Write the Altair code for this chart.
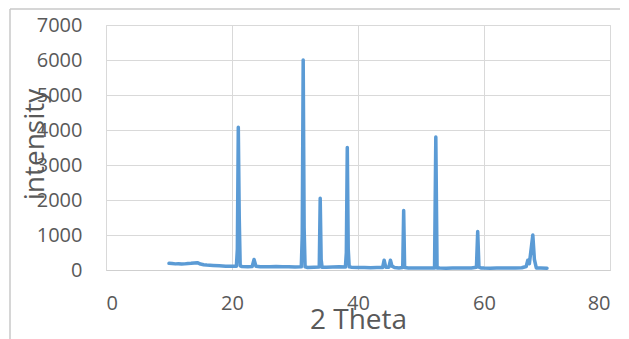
import altair as alt
import pandas as pd

two_theta = [
    10.0, 10.5, 11.0, 11.5, 12.0, 12.5, 13.0, 13.5, 14.0, 14.5, 15.0, 15.5,
    16.0, 17.0, 18.0, 19.0, 20.0, 20.7, 20.85, 21.0, 21.15, 21.3, 21.6, 22.5,
    23.2, 23.5, 23.8, 24.5, 26.0, 27.0, 28.0, 29.0, 30.0, 31.0, 31.15, 31.3,
    31.45, 31.6, 32.0, 33.0, 33.85, 34.0, 34.15, 34.3, 35.0, 36.0, 37.0, 38.0,
    38.15, 38.3, 38.45, 38.6, 39.0, 40.0, 41.0, 42.0, 43.0, 43.9, 44.15, 44.4,
    44.9, 45.15, 45.4, 45.8, 46.5, 47.1, 47.25, 47.4, 48.0, 49.0, 50.0, 51.0,
    52.15, 52.35, 52.55, 53.0, 54.0, 55.0, 56.0, 57.0, 58.0, 58.8, 59.0, 59.2,
    59.5, 60.0, 61.0, 62.0, 63.0, 64.0, 65.0, 66.0, 66.7, 66.95, 67.2, 67.75,
    68.0, 68.3, 69.0, 70.0,
]
intensity = [
    190, 185, 175, 180, 170, 175, 185, 190, 200, 210, 170, 150,
    140, 130, 120, 110, 105, 110, 600, 4080, 1500, 120, 100, 90,
    100, 300, 110, 90, 90, 100, 90, 95, 85, 90, 1000, 6000,
    1200, 90, 70, 80, 85, 2050, 300, 80, 80, 85, 90, 85,
    500, 3500, 600, 90, 80, 70, 70, 65, 70, 70, 280, 80,
    80, 280, 110, 70, 60, 70, 1700, 70, 60, 55, 55, 60,
    60, 3800, 60, 55, 50, 55, 55, 60, 60, 80, 1100, 80,
    60, 55, 50, 60, 55, 60, 60, 65, 100, 280, 180, 1000,
    300, 60, 55, 50,
]

x_ticks = [0, 20, 40, 60, 80]
y_ticks = [0, 1000, 2000, 3000, 4000, 5000, 6000, 7000]

df = pd.DataFrame({"two_theta": two_theta, "intensity": intensity})

FONT = "Open Sans"
GRID = "#d9d9d9"
TXT = "#595959"

line = alt.Chart(df).mark_line(
    color="#5B9BD5", strokeWidth=3.5, strokeJoin="round", strokeCap="round"
).encode(
    x=alt.X(
        "two_theta:Q",
        scale=alt.Scale(domain=[0, 80], nice=False),
        axis=alt.Axis(
            values=x_ticks, format="d", title="2 Theta", grid=True, gridColor=GRID,
            ticks=False, domain=True, domainColor="#cfcfcf",
            labelFont=FONT, labelFontSize=20, labelColor=TXT, labelPadding=23,
            titleFont=FONT, titleFontSize=28, titleColor=TXT,
            titleFontWeight="normal", titleY=58, titleBaseline="alphabetic",
        ),
    ),
    y=alt.Y(
        "intensity:Q",
        scale=alt.Scale(domain=[0, 7000], nice=False),
        axis=alt.Axis(
            values=y_ticks, format="d", title="intensity", grid=True, gridColor=GRID,
            ticks=False, domain=False,
            labelFont=FONT, labelFontSize=20, labelColor=TXT, labelPadding=24,
            titleFont=FONT, titleFontSize=28, titleColor=TXT,
            titleFontWeight="normal", titleAngle=-90, titleX=-63, titleY=119,
            titleAlign="center", titleBaseline="alphabetic",
        ),
    ),
)

frame_df = pd.DataFrame({"k": [0]})
left_edge = alt.Chart(frame_df).mark_rule(color="#c8c8c8", strokeWidth=1.5, clip=False).encode(
    x=alt.value(-96), y=alt.value(-16), y2=alt.value(330)
)
top_edge = alt.Chart(frame_df).mark_rule(color="#c8c8c8", strokeWidth=1.5, clip=False).encode(
    x=alt.value(-96), x2=alt.value(530), y=alt.value(-16)
)

chart = alt.layer(line, left_edge, top_edge).properties(
    width=504,
    height=245,
    autosize=alt.AutoSizeParams(type="none"),
    padding={"left": 98, "top": 17, "right": 10, "bottom": 69},
).configure_view(stroke=GRID, strokeWidth=1, clip=False).configure(background="white")

chart.save("out.html", embed_options={"renderer": "svg", "actions": False})
